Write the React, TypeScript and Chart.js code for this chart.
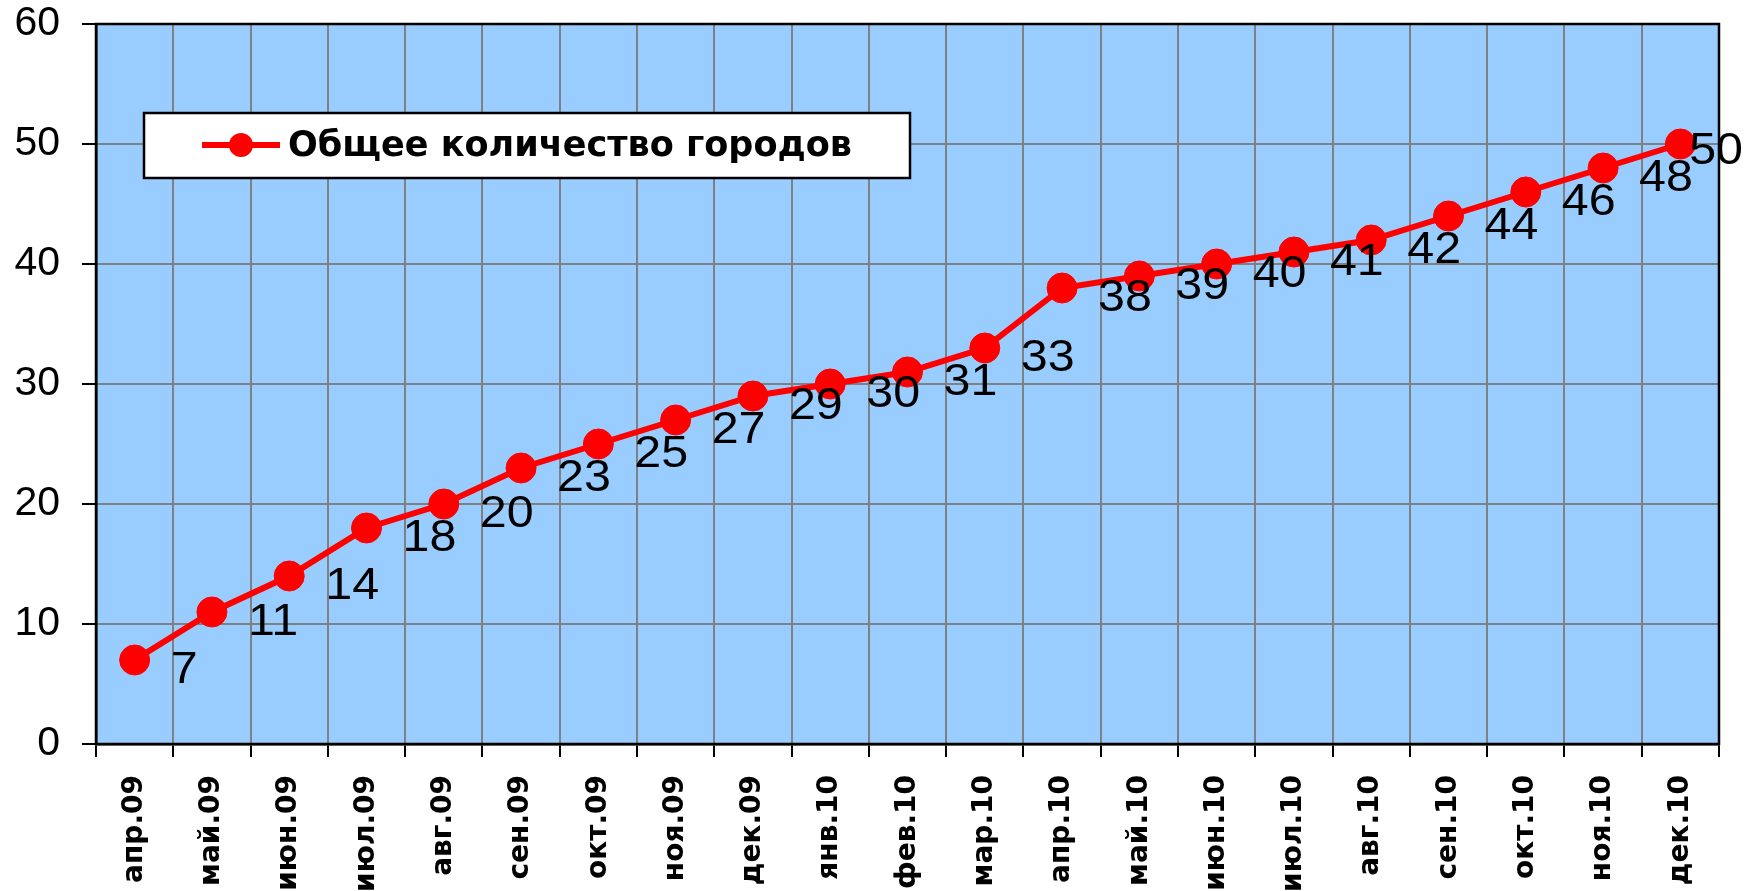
import React, { useEffect, useRef } from "react";
import { Chart, registerables } from "chart.js";

Chart.register(...registerables);

const categories = [
  "апр.09", "май.09", "июн.09", "июл.09", "авг.09", "сен.09", "окт.09",
  "ноя.09", "дек.09", "янв.10", "фев.10", "мар.10", "апр.10", "май.10",
  "июн.10", "июл.10", "авг.10", "сен.10", "окт.10", "ноя.10", "дек.10",
];
const cityCounts = [7, 11, 14, 18, 20, 23, 25, 27, 29, 30, 31, 33, 38, 39, 40, 41, 42, 44, 46, 48, 50];
const seriesLabel = "Общее количество городов";
const yTicks = [0, 10, 20, 30, 40, 50, 60];

const plotBg = {
  id: "plotBg",
  beforeDraw(chart: any) {
    const { ctx, chartArea: a } = chart;
    ctx.save();
    ctx.fillStyle = "#99CCFF";
    ctx.fillRect(a.left, a.top, a.right - a.left, a.bottom - a.top);
    ctx.restore();
  },
  beforeDatasetsDraw(chart: any) {
    const { ctx, chartArea: a } = chart;
    ctx.save();
    ctx.strokeStyle = "#000";
    ctx.lineWidth = 2.5;
    ctx.strokeRect(a.left, a.top, a.right - a.left, a.bottom - a.top);
    ctx.restore();
  },
};

const dataLabels = {
  id: "dataLabels",
  afterDatasetsDraw(chart: any) {
    const { ctx } = chart;
    const meta = chart.getDatasetMeta(0);
    const data = chart.data.datasets[0].data;
    ctx.save();
    ctx.font = "44px 'Liberation Sans', Arial, sans-serif";
    ctx.fillStyle = "#000";
    ctx.textBaseline = "alphabetic";
    const sx = 1.1;
    meta.data.forEach((pt: any, i: number) => {
      const txt = String(data[i]);
      const w = ctx.measureText(txt).width * sx;
      let x = pt.x + 36;
      let y = pt.y + 23;
      const maxX = chart.width - 19;
      if (x + w > maxX) {
        x = maxX - w;
        y -= 3;
      }
      ctx.save();
      ctx.translate(x, y);
      ctx.scale(sx, 1);
      ctx.fillText(txt, 0, 0);
      ctx.restore();
    });
    ctx.restore();
  },
};

const legendBox = {
  id: "legendBox",
  afterDraw(chart: any) {
    const { ctx, chartArea: a } = chart;
    const left = a.left + 48;
    const top = a.top + 89;
    const w = 766;
    const h = 65;
    ctx.save();
    ctx.fillStyle = "#fff";
    ctx.fillRect(left, top, w, h);
    ctx.strokeStyle = "#000";
    ctx.lineWidth = 2.5;
    ctx.strokeRect(left, top, w, h);
    const cy = top + 32;
    ctx.strokeStyle = "#FF0000";
    ctx.lineWidth = 6;
    ctx.beginPath();
    ctx.moveTo(left + 58, cy);
    ctx.lineTo(left + 136, cy);
    ctx.stroke();
    ctx.fillStyle = "#FF0000";
    ctx.beginPath();
    ctx.arc(left + 97, cy, 12, 0, Math.PI * 2);
    ctx.fill();
    ctx.font = "bold 35px 'DejaVu Sans', Verdana, sans-serif";
    ctx.fillStyle = "#000";
    ctx.textBaseline = "alphabetic";
    const tw = ctx.measureText(seriesLabel).width;
    const target = 564;
    ctx.translate(left + 144, top + 43);
    ctx.scale(target / tw, 1);
    ctx.fillText(seriesLabel, 0, 0);
    ctx.restore();
  },
};

export default function App() {
  const ref = useRef<HTMLCanvasElement>(null);
  useEffect(() => {
    if (!ref.current) return;
    const chart = new Chart(ref.current, {
      type: "line",
      data: {
        labels: categories,
        datasets: [
          {
            label: seriesLabel,
            data: cityCounts,
            borderColor: "#FF0000",
            backgroundColor: "#FF0000",
            borderWidth: 6,
            pointRadius: 15,
            pointBackgroundColor: "#FF0000",
            pointBorderColor: "#FF0000",
            pointBorderWidth: 1,
            tension: 0,
            clip: false,
          },
        ],
      },
      options: {
        animation: false,
        responsive: true,
        maintainAspectRatio: false,
        layout: { autoPadding: false, padding: { top: 24, right: 43, left: 0, bottom: 0 } },
        plugins: {
          legend: { display: false },
          tooltip: { enabled: false },
        },
        scales: {
          x: {
            offset: true,
            grid: {
              offset: true,
              color: "#808080",
              lineWidth: 2,
              tickColor: "#000",
              tickLength: 13,
              drawTicks: true,
            },
            border: { color: "#000", width: 2.5 },
            ticks: {
              autoSkip: false,
              minRotation: 90,
              maxRotation: 90,
              padding: 18,
              color: "#000",
              font: { family: "'DejaVu Sans', Verdana, sans-serif", size: 28, weight: "bold" },
            },
            afterFit(scale: any) {
              scale.height = 147;
              scale.paddingLeft = 0;
              scale.paddingRight = 0;
            },
          },
          y: {
            min: 0,
            max: 60,
            afterBuildTicks(scale: any) {
              scale.ticks = yTicks.map((v) => ({ value: v }));
            },
            grid: {
              color: "#808080",
              lineWidth: 2,
              tickColor: "#000",
              tickLength: 14,
            },
            border: { color: "#000", width: 2.5 },
            ticks: {
              padding: 22,
              color: "#000",
              font: { family: "'Liberation Sans', Arial, sans-serif", size: 41 },
            },
            afterFit(scale: any) {
              scale.width = 96;
              scale.paddingTop = 0;
              scale.paddingBottom = 0;
            },
          },
        },
      },
      plugins: [plotBg, dataLabels, legendBox],
    });
    return () => chart.destroy();
  }, []);
  return (
    <div style={{ position: "fixed", left: 0, top: 0, width: 1762, height: 891, background: "#fff" }}>
      <canvas ref={ref} />
    </div>
  );
}
